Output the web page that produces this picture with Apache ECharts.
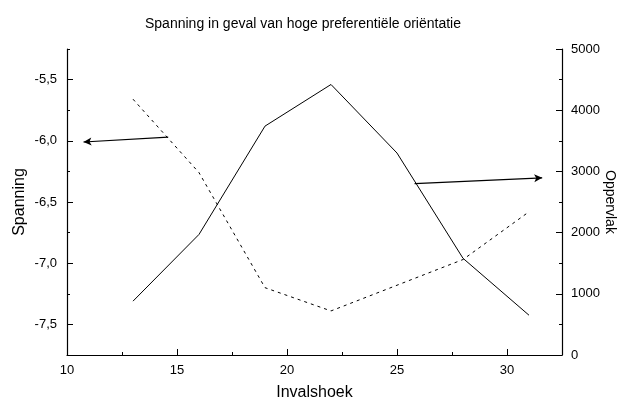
<!DOCTYPE html>
<html>
<head>
<meta charset="utf-8">
<script src="https://cdn.jsdelivr.net/npm/echarts@6/dist/echarts.min.js"></script>
<style>
    html, body { margin: 0; padding: 0; background: #fff; }
    #chart { width: 620px; height: 401px; }
</style>
</head>
<body>
<div id="chart"></div>
<script>
// gemeten waarden
const invalshoek = [13, 16, 19, 22, 25, 28, 31];
const spanning = [-5.66, -6.26, -7.2, -7.39, -7.18, -6.97, -6.58];
const oppervlak = [880, 1970, 3740, 4420, 3300, 1580, 650];

// as-indeling
const xTicks = [10, 15, 20, 25, 30];
const xMinorTicks = [12.5, 17.5, 22.5, 27.5];
const spanningTicks = [-7.5, -7.0, -6.5, -6.0, -5.5];
const spanningMinorTicks = [-7.75, -7.25, -6.75, -6.25, -5.75, -5.25];

// pijlen (begin -> eind, in data-eenheden)
const pijlSpanning = [[14.6, -5.97], [10.75, -6.01]];
const pijlOppervlak = [[25.8, 2800], [31.6, 2895]];

const black = '#000';
const font = 'Liberation Sans, Arial, sans-serif';

const option = {
    animation: false,
    title: {
        text: 'Spanning in geval van hoge preferentiële oriëntatie',
        left: 140,
        top: 12,
        textStyle: { fontFamily: font, fontSize: 14, fontWeight: 'normal', color: black },
    },
    grid: { left: 67, right: 58, top: 49, bottom: 46, outerBoundsMode: 'none' },
    xAxis: [
        {
            type: 'value',
            min: 10,
            max: 32.5,
            name: 'Invalshoek',
            nameLocation: 'middle',
            nameGap: 30,
            nameTextStyle: { fontFamily: font, fontSize: 16, color: black },
            axisLine: { lineStyle: { color: black, width: 1.2 } },
            axisTick: { inside: true, length: 6, customValues: xTicks, lineStyle: { color: black } },
            axisLabel: { customValues: xTicks, margin: 9, fontFamily: font, fontSize: 13, color: black },
            splitLine: { show: false },
        },
        {
            type: 'value',
            position: 'bottom',
            min: 10,
            max: 32.5,
            axisLine: { show: false },
            axisTick: { inside: true, length: 3, customValues: xMinorTicks, lineStyle: { color: black } },
            axisLabel: { show: false },
            splitLine: { show: false },
        },
    ],
    yAxis: [
        {
            type: 'value',
            position: 'left',
            min: -7.75,
            max: -5.25,
            name: 'Spanning',
            nameLocation: 'middle',
            nameGap: 39,
            nameRotate: 90,
            nameMoveOverlap: false,
            nameTextStyle: { fontFamily: font, fontSize: 16, color: black },
            axisLine: { show: true, lineStyle: { color: black, width: 1.2 } },
            axisTick: { show: true, inside: true, length: 6, customValues: spanningTicks, lineStyle: { color: black } },
            axisLabel: {
                customValues: spanningTicks,
                margin: 10,
                fontFamily: font,
                fontSize: 13,
                color: black,
                formatter: (v) => v.toFixed(1).replace('.', ','),
            },
            splitLine: { show: false },
        },
        {
            type: 'value',
            position: 'right',
            min: 0,
            max: 5000,
            interval: 1000,
            name: 'Oppervlak',
            nameLocation: 'middle',
            nameGap: 41,
            nameRotate: -90,
            nameMoveOverlap: false,
            nameTextStyle: { fontFamily: font, fontSize: 14, color: black },
            axisLine: { show: true, lineStyle: { color: black, width: 1.2 } },
            axisTick: { show: true, inside: true, length: 6, lineStyle: { color: black } },
            minorTick: { show: true, splitNumber: 2, length: 3, lineStyle: { color: black } },
            axisLabel: { margin: 9, fontFamily: font, fontSize: 13, color: black, formatter: (v) => String(v) },
            splitLine: { show: false },
        },
        {
            type: 'value',
            position: 'left',
            min: -7.75,
            max: -5.25,
            axisLine: { show: false },
            axisTick: { show: true, inside: true, length: 3, customValues: spanningMinorTicks, lineStyle: { color: black } },
            axisLabel: { show: false },
            splitLine: { show: false },
        },
    ],
    series: [
        {
            name: 'Spanning',
            type: 'line',
            xAxisIndex: 0,
            yAxisIndex: 0,
            data: invalshoek.map((x, i) => [x, spanning[i]]),
            symbol: 'none',
            lineStyle: { color: black, width: 1, type: [3, 4] },
            markLine: {
                silent: true,
                symbol: ['none', 'arrow'],
                symbolSize: [6, 8],
                label: { show: false },
                lineStyle: { color: black, width: 1.2, type: 'solid' },
                data: [[{ coord: pijlSpanning[0] }, { coord: pijlSpanning[1] }]],
            },
        },
        {
            name: 'Oppervlak',
            type: 'line',
            xAxisIndex: 0,
            yAxisIndex: 1,
            data: invalshoek.map((x, i) => [x, oppervlak[i]]),
            symbol: 'none',
            lineStyle: { color: black, width: 1 },
            markLine: {
                silent: true,
                symbol: ['none', 'arrow'],
                symbolSize: [6, 8],
                label: { show: false },
                lineStyle: { color: black, width: 1.2, type: 'solid' },
                data: [[{ coord: pijlOppervlak[0] }, { coord: pijlOppervlak[1] }]],
            },
        },
    ],
};

const myChart = echarts.init(document.getElementById('chart'));
myChart.setOption(option);
</script>
</body>
</html>
